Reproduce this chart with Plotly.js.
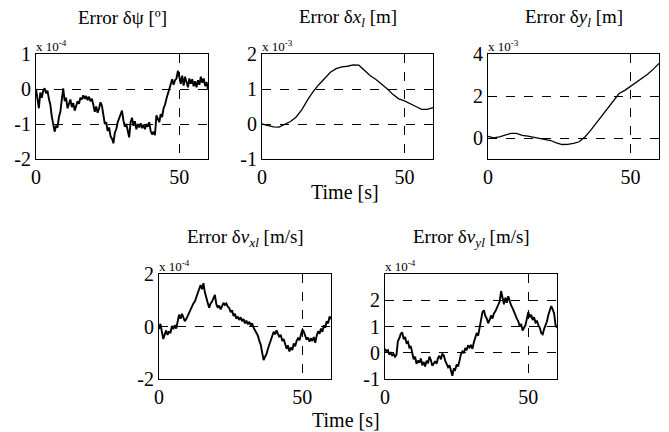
<!DOCTYPE html>
<html><head><meta charset="utf-8">
<script src="https://cdn.plot.ly/plotly-3.0.1.min.js"></script>
<style>html,body{margin:0;padding:0;background:#fff;}#chart{width:669px;height:432px;}</style>
</head><body><div id="chart"></div>
<script>
// time samples (s)
const tStart = 0, tEnd = 60, tStepNoisy = 0.5, tStepSmooth = 2;
// Error dpsi [deg], x 1e-4, every 0.5 s
const psiErr = [0.00,-0.35,-0.55,-0.10,-0.25,-0.05,0.02,-0.12,-0.05,-0.28,-0.45,-0.78,-1.05,-1.22,-1.05,-1.10,-0.80,-0.65,-0.30,0.02,
-0.35,-0.25,-0.55,-0.42,-0.30,-0.52,-0.40,-0.62,-0.45,-0.35,-0.42,-0.25,-0.30,-0.18,-0.28,-0.20,-0.32,-0.22,-0.35,-0.28,
-0.45,-0.65,-0.50,-0.68,-0.55,-0.38,-0.48,-0.75,-1.00,-0.95,-1.20,-1.10,-1.35,-1.42,-1.55,-1.25,-1.15,-0.95,-0.85,-0.70,
-0.62,-0.90,-1.08,-1.00,-1.25,-1.38,-0.95,-0.82,-1.05,-0.92,-1.15,-1.00,-1.10,-0.98,-1.12,-1.02,-1.15,-1.00,-1.08,-0.95,
-1.20,-1.30,-1.22,-1.32,-0.75,-0.85,-0.95,-0.72,-0.80,-0.55,-0.45,-0.28,-0.12,0.02,0.15,0.28,0.12,0.25,0.30,0.52,
0.35,0.15,0.38,0.10,0.35,0.20,0.05,0.30,0.15,0.28,0.08,0.22,0.05,0.25,0.12,0.35,0.18,0.30,0.08,0.20,-0.02];
// Error dx_l [m], x 1e-3, every 2 s
const xlErr = [0,-0.04,-0.08,-0.09,-0.02,0.07,0.20,0.41,0.69,0.93,1.13,1.32,1.48,1.58,1.63,1.65,1.69,1.68,1.54,1.38,1.27,1.14,1.00,0.84,0.72,0.66,0.59,0.50,0.42,0.42,0.47];
// Error dy_l [m], x 1e-3, every 2 s
const ylErr = [0.08,0.01,0.05,0.15,0.22,0.22,0.13,0.09,0.04,0.0,-0.04,-0.12,-0.23,-0.31,-0.30,-0.26,-0.18,0.05,0.36,0.72,1.08,1.45,1.80,2.12,2.27,2.46,2.68,2.88,3.04,3.28,3.55];
// Error dv_xl [m/s], x 1e-4, every 0.5 s
const vxlErr = [-0.10,0.10,-0.20,-0.48,-0.30,-0.15,-0.32,-0.18,-0.25,0.02,-0.10,0.05,-0.08,0.15,0.45,0.30,0.48,0.35,0.20,0.28,
0.40,0.55,0.62,0.78,0.88,0.95,1.10,1.25,1.45,1.58,1.42,1.65,1.30,1.05,0.90,0.72,0.88,0.95,1.12,1.20,
0.85,0.72,0.80,0.65,0.78,0.90,0.82,0.88,0.75,0.70,0.55,0.62,0.40,0.48,0.30,0.38,0.25,0.35,0.20,0.28,
0.12,0.22,0.08,0.18,0.05,0.12,-0.05,-0.15,-0.28,-0.35,-0.55,-0.70,-1.00,-1.28,-1.15,-1.05,-0.85,-0.70,-0.55,-0.35,
-0.20,-0.30,-0.15,-0.28,-0.40,-0.32,-0.55,-0.48,-0.70,-0.85,-0.72,-0.95,-0.80,-0.90,-0.65,-0.75,-0.55,-0.45,-0.52,-0.30,
-0.12,-0.20,-0.38,-0.50,-0.42,-0.58,-0.45,-0.55,-0.40,-0.62,-0.35,-0.18,-0.28,-0.08,-0.20,0.05,-0.05,0.20,0.12,0.38,0.28];
// Error dv_yl [m/s], x 1e-4, every 0.5 s
const vylErr = [0.15,0.05,0.10,-0.08,0.02,-0.10,-0.05,-0.15,-0.08,0.45,0.55,0.72,0.78,0.52,0.60,0.38,0.42,0.20,0.25,-0.05,
-0.25,-0.15,-0.42,-0.30,-0.38,-0.22,-0.48,-0.35,-0.52,-0.30,-0.40,-0.15,-0.28,-0.50,-0.40,-0.32,-0.42,-0.20,-0.12,-0.25,
-0.05,-0.10,-0.30,-0.45,-0.55,-0.48,-0.70,-0.88,-0.60,-0.65,-0.45,-0.52,-0.30,-0.05,0.05,-0.02,0.18,0.10,0.28,0.20,
0.30,0.15,0.40,0.55,0.75,0.65,0.95,1.10,1.55,1.62,1.40,1.30,1.12,1.25,1.42,1.30,1.50,1.58,1.70,1.85,
1.95,2.35,2.05,1.85,2.10,1.90,2.15,1.95,1.80,1.70,1.55,1.45,1.30,1.20,1.00,1.10,0.85,0.95,1.05,1.30,
1.55,1.35,1.45,1.25,1.35,1.15,1.20,1.05,0.95,0.75,0.70,0.90,1.05,1.20,1.45,1.60,1.78,1.65,1.50,1.05,0.95];

const titles = ['Error δψ [º]', 'Error δ<i>x</i><sub><i>l</i></sub> [m]', 'Error δ<i>y</i><sub><i>l</i></sub> [m]',
  'Error δ<i>v</i><sub><i>xl</i></sub> [m/s]', 'Error δ<i>v</i><sub><i>yl</i></sub> [m/s]'];
const scaleLabels = ['x 10<sup>-4</sup>','x 10<sup>-3</sup>','x 10<sup>-3</sup>','x 10<sup>-4</sup>','x 10<sup>-4</sup>'];
const xTicks = [0, 50];
const yTicks = [[-2,-1,0,1],[-1,0,1,2],[0,2,4],[-2,0,2],[-1,0,1,2]];
const yRanges = [[-2,1],[-1,2],[-1,4],[-2,2],[-1,3]];
const xAxisLabel = 'Time [s]';

function timeAxis(step){ const a=[]; for(let t=tStart;t<=tEnd+1e-9;t+=step) a.push(+t.toFixed(2)); return a; }
const tN = timeAxis(tStepNoisy), tS = timeAxis(tStepSmooth);

const W=669, H=432;
const boxes = [[36,208,54,159],[262,433,54,159],[488,659,54,159],[159,331,274,379],[385,557,274,379]];
const series = [[tN,psiErr],[tS,xlErr],[tS,ylErr],[tN,vxlErr],[tN,vylErr]];
const FONT = "Liberation Serif, Times New Roman, serif";

const data = series.map((s,i)=>({x:s[0], y:s[1], type:'scatter', mode:'lines',
  xaxis: i===0?'x':'x'+(i+1), yaxis: i===0?'y':'y'+(i+1),
  line:{color:'#000', width: i===1||i===2?1.3:1.9}, showlegend:false, hoverinfo:'skip'}));

const layout = {width:W, height:H, margin:{l:0,r:0,t:0,b:0}, paper_bgcolor:'#fff', plot_bgcolor:'#fff',
  font:{family:FONT, color:'#000', size:20}, showlegend:false, annotations:[]};

boxes.forEach((b,i)=>{
  const k = i===0?'':String(i+1);
  layout['xaxis'+k] = {domain:[b[0]/W, b[1]/W], range:[0,60], tickvals:xTicks, ticktext:xTicks.map(String),
    anchor:'y'+k, showline:true, mirror:true, linecolor:'#000', linewidth:1, showgrid:true, gridcolor:'#000', griddash:'dash', gridwidth:1,
    zeroline:false, ticks:'', tickfont:{size:20, family:FONT}, fixedrange:true};
  layout['yaxis'+k] = {domain:[1-b[3]/H, 1-b[2]/H], range:yRanges[i], tickvals:yTicks[i], ticktext:yTicks[i].map(String),
    anchor:'x'+k, showline:true, mirror:true, linecolor:'#000', linewidth:1, showgrid:true, gridcolor:'#000', griddash:'dash', gridwidth:1,
    zeroline:false, ticks:'', tickfont:{size:20, family:FONT}, fixedrange:true};
  layout.annotations.push({text:titles[i], xref:'paper', yref:'paper', x:(b[0]+b[1])/2/W, y:1-(i<3?18:238)/H,
    xanchor:'center', yanchor:'middle', showarrow:false, font:{size:19, family:FONT}});
  layout.annotations.push({text:scaleLabels[i], xref:'paper', yref:'paper', x:(b[0]-2)/W, y:1-(b[2]-8)/H,
    xanchor:'left', yanchor:'middle', showarrow:false, font:{size:13, family:FONT}});
});
layout.annotations.push({text:xAxisLabel, xref:'paper', yref:'paper', x:345/W, y:1-192/H, xanchor:'center', yanchor:'middle', showarrow:false, font:{size:20, family:FONT}});
layout.annotations.push({text:xAxisLabel, xref:'paper', yref:'paper', x:346/W, y:1-420/H, xanchor:'center', yanchor:'middle', showarrow:false, font:{size:20, family:FONT}});

Plotly.newPlot('chart', data, layout, {staticPlot:true, displayModeBar:false});
</script></body></html>
